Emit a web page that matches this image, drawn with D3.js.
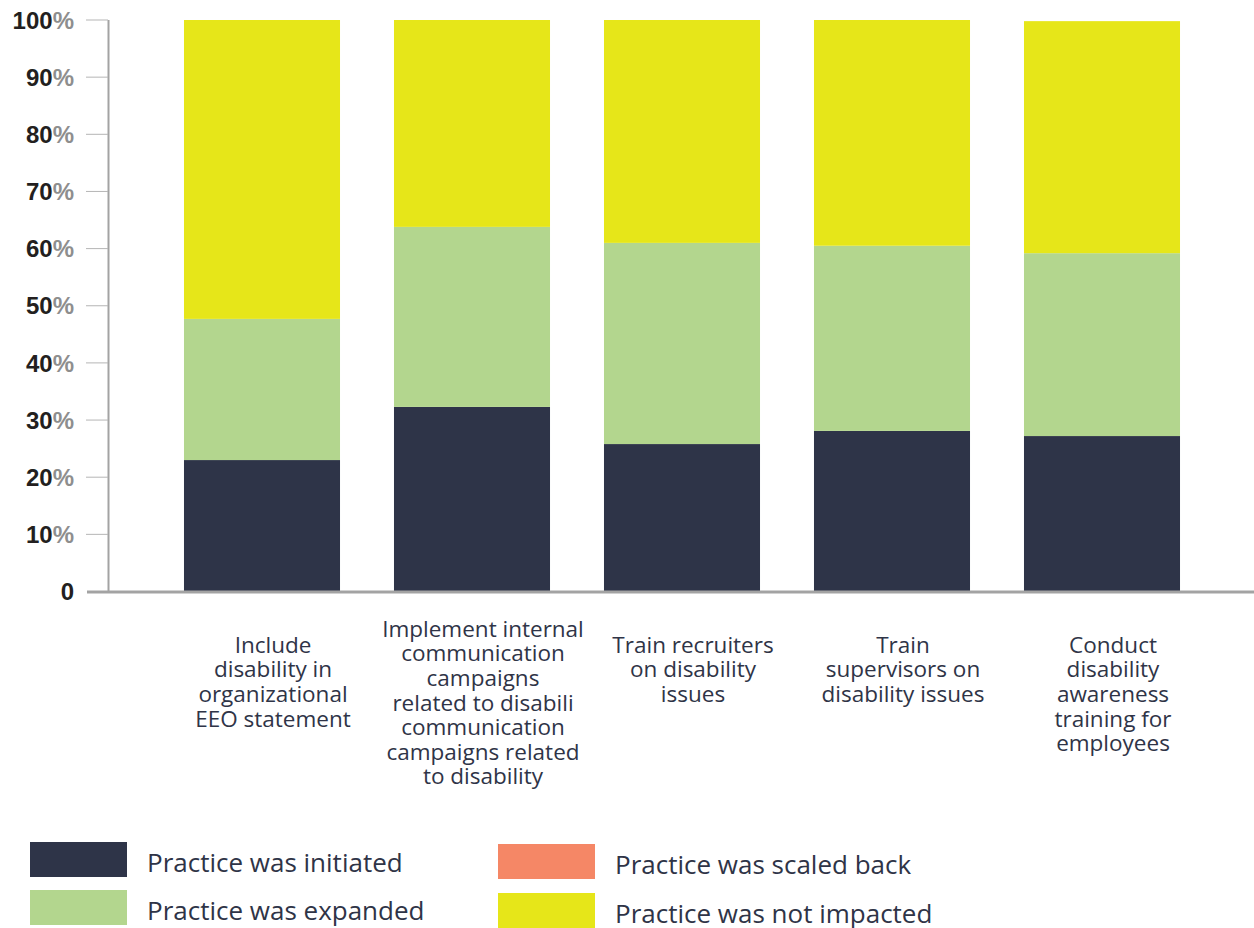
<!DOCTYPE html>
<html>
<head>
<meta charset="utf-8">
<script src="https://cdn.jsdelivr.net/npm/d3@7"></script>
<style>
  html, body { margin: 0; padding: 0; background: #ffffff; }
  svg { display: block; }
</style>
</head>
<body>
<svg id="chart" width="1254" height="928"></svg>
<script>
// Practices and their share of responses by impact
const categories = [
  "Include disability in organizational EEO statement",
  "Implement internal communication campaigns related to disability",
  "Train recruiters on disability issues",
  "Train supervisors on disability issues",
  "Conduct disability awareness training for employees"
];
const categoryLines = [
  ["Include", "disability in", "organizational", "EEO statement"],
  ["Implement internal", "communication", "campaigns", "related to disabili", "communication", "campaigns related", "to disability"],
  ["Train recruiters", "on disability", "issues"],
  ["Train", "supervisors on", "disability issues"],
  ["Conduct", "disability", "awareness", "training for", "employees"]
];
const seriesNames = [
  "Practice was initiated",
  "Practice was expanded",
  "Practice was scaled back",
  "Practice was not impacted"
];
const initiated   = [23.0, 32.3, 25.8, 28.1, 27.2];
const expanded    = [24.7, 31.5, 35.2, 32.4, 32.0];
const scaledBack  = [0, 0, 0, 0, 0];
const notImpacted = [52.3, 36.2, 39.0, 39.5, 40.6];
const seriesColors = ["#2e3448", "#b3d68e", "#f58766", "#e6e619"];
const yTicks = [0, 10, 20, 30, 40, 50, 60, 70, 80, 90, 100];

const svg = d3.select("#chart");

const rows = categories.map((c, i) => ({
  category: c,
  [seriesNames[0]]: initiated[i],
  [seriesNames[1]]: expanded[i],
  [seriesNames[2]]: scaledBack[i],
  [seriesNames[3]]: notImpacted[i]
}));
const stacked = d3.stack().keys(seriesNames)(rows);

const y = d3.scaleLinear().domain([0, 100]).range([591.5, 20]);
const x = d3.scaleBand().domain(categories).range([157, 1207]).paddingInner(0.257).paddingOuter(0.1285);
const color = d3.scaleOrdinal().domain(seriesNames).range(seriesColors);

// Bars
svg.append("g").selectAll("g")
  .data(stacked)
  .join("g")
    .attr("fill", d => color(d.key))
  .selectAll("rect")
  .data(d => d)
  .join("rect")
    .attr("x", d => x(d.data.category))
    .attr("width", x.bandwidth())
    .attr("y", d => y(d[1]))
    .attr("height", d => Math.max(0, y(d[0]) - y(d[1])));

// Y axis: vertical line, ticks and labels
const axisG = svg.append("g");
axisG.append("line")
  .attr("x1", 108.5).attr("x2", 108.5)
  .attr("y1", y(100)).attr("y2", y(0))
  .attr("stroke", "#a3a3a3").attr("stroke-width", 2);
axisG.selectAll("line.tick")
  .data(yTicks.filter(t => t > 0))
  .join("line")
    .attr("class", "tick")
    .attr("x1", 86).attr("x2", 108)
    .attr("y1", d => y(d)).attr("y2", d => y(d))
    .attr("stroke", "#b5b5b5").attr("stroke-width", 1);
const tickText = axisG.selectAll("text")
  .data(yTicks)
  .join("text")
    .attr("x", 74)
    .attr("y", d => y(d))
    .attr("dy", "0.36em")
    .attr("text-anchor", "end")
    .attr("font-family", "'Liberation Sans', Arial, sans-serif")
    .attr("font-weight", "bold")
    .attr("font-size", 24);
tickText.append("tspan").attr("fill", "#231f20").text(d => d === 0 ? "0" : d);
tickText.filter(d => d > 0).append("tspan").attr("fill", "#8e8e8e").text("%");

// Baseline
svg.append("line")
  .attr("x1", 87).attr("x2", 1254)
  .attr("y1", y(0) + 0.5).attr("y2", y(0) + 0.5)
  .attr("stroke", "#a3a3a3").attr("stroke-width", 3);

// Category labels
const labelG = svg.append("g")
  .attr("font-family", "'Open Sans', sans-serif")
  .attr("font-size", 22.5)
  .attr("fill", "#2f3447")
  .attr("text-anchor", "middle");
categories.forEach((c, i) => {
  const lines = categoryLines[i];
  const top = lines.length > 5 ? 629 : 645;
  const cx = x(c) + x.bandwidth() / 2 + 11;
  const t = labelG.append("text")
    .attr("x", cx)
    .attr("y", top);
  lines.forEach((ln, j) => {
    t.append("tspan")
      .attr("x", cx)
      .attr("dy", j === 0 ? "0.35em" : 24.6)
      .text(ln);
  });
});

// Legend, two columns
const legendPos = [
  { x: 30, y: 842 },
  { x: 30, y: 890 },
  { x: 498, y: 844 },
  { x: 498, y: 893 }
];
const legend = svg.append("g")
  .attr("font-family", "'Open Sans', sans-serif")
  .attr("font-size", 26)
  .attr("fill", "#2f3447");
seriesNames.forEach((s, i) => {
  const p = legendPos[i];
  legend.append("rect")
    .attr("x", p.x).attr("y", p.y)
    .attr("width", 97).attr("height", 35)
    .attr("fill", color(s));
  legend.append("text")
    .attr("x", p.x + 117)
    .attr("y", p.y + 21)
    .attr("dy", "0.35em")
    .text(s);
});
</script>
</body>
</html>
